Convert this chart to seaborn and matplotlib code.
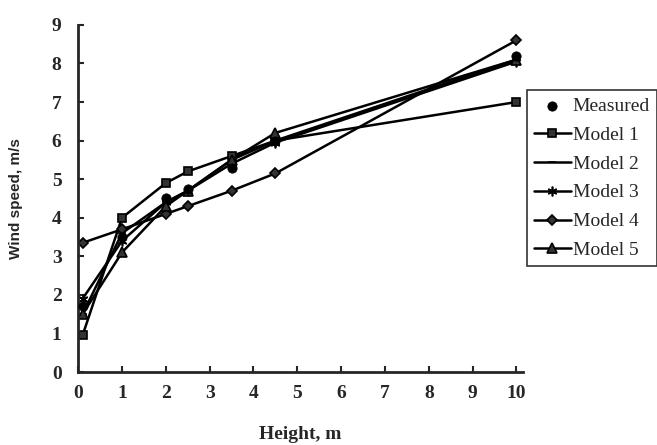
import matplotlib
matplotlib.use('Agg')
import matplotlib.pyplot as plt
import seaborn as sns

# heights (m) and wind speeds (m/s)
heights = [0.1, 1, 2, 2.5, 3.5, 4.5, 10]
measured = [1.7, 3.5, 4.5, 4.75, 5.3, 6.0, 8.2]
model1 = [0.95, 4.0, 4.9, 5.2, 5.6, 6.0, 7.0]
model2 = [1.5, 3.6, 4.4, 4.7, 5.5, 6.0, 8.1]
model3 = [1.9, 3.4, 4.4, 4.7, 5.4, 5.95, 8.05]
model4 = [3.35, 3.7, 4.1, 4.3, 4.7, 5.15, 8.6]
model5 = [1.5, 3.1, 4.3, 4.7, 5.5, 6.2, 8.1]

x_ticks = list(range(0, 11))
y_ticks = list(range(0, 10))

sns.set_style('ticks')
plt.rcParams['font.family'] = ['Liberation Serif', 'DejaVu Serif']
plt.rcParams['xtick.direction'] = 'in'
plt.rcParams['ytick.direction'] = 'in'

fig = plt.figure(figsize=(6.57, 4.45), dpi=100)
ax = fig.add_axes([0.119, 0.164, 0.677, 0.78])

# models as lines with markers
models = [
    ('Model 1', model1, 's', 6),
    ('Model 2', model2, '_', 6),
    ('Model 3', model3, (6, 2, 0), 7),
    ('Model 4', model4, 'D', 5),
    ('Model 5', model5, '^', 7),
]

sns.scatterplot(x=heights, y=measured, color='black', marker='o', s=45,
                edgecolor='black', label='Measured', ax=ax, zorder=5)
for name, vals, mk, ms in models:
    sns.lineplot(x=heights, y=vals, color='black', linewidth=1.8, marker=mk,
                 markersize=ms, markeredgecolor='black', markerfacecolor='#333333',
                 markeredgewidth=1.2, label=name, ax=ax)

ax.set_xlim(0, 10.15)
ax.set_ylim(0, 9)
ax.set_xticks(x_ticks)
ax.set_yticks(y_ticks)
ax.tick_params(labelsize=14, width=1.5, length=4)
ax.tick_params(axis='x', pad=9)
ax.tick_params(axis='y', pad=12)
for lab in ax.get_xticklabels() + ax.get_yticklabels():
    lab.set_fontweight('bold')
ax.spines['left'].set_linewidth(2)
ax.spines['bottom'].set_linewidth(2)
sns.despine(ax=ax)

ax.set_xlabel('Height, m', fontsize=14, fontweight='bold')
ax.set_ylabel('Wind speed, m/s', fontsize=11, fontweight='bold',
              family=['Liberation Sans', 'DejaVu Sans'])
ax.xaxis.set_label_coords(0.5, -0.156)
ax.yaxis.set_label_coords(-0.125, 0.5)

leg = ax.legend(loc='upper left', bbox_to_anchor=(0.802, 0.797),
                bbox_transform=fig.transFigure, frameon=True, fancybox=False,
                fontsize=14, handlelength=1.9, handletextpad=0.1,
                labelspacing=0.58, borderpad=0.35, borderaxespad=0)
leg.get_frame().set_edgecolor('black')
leg.get_frame().set_linewidth(1.2)

fig.savefig('out.png', dpi=100)
